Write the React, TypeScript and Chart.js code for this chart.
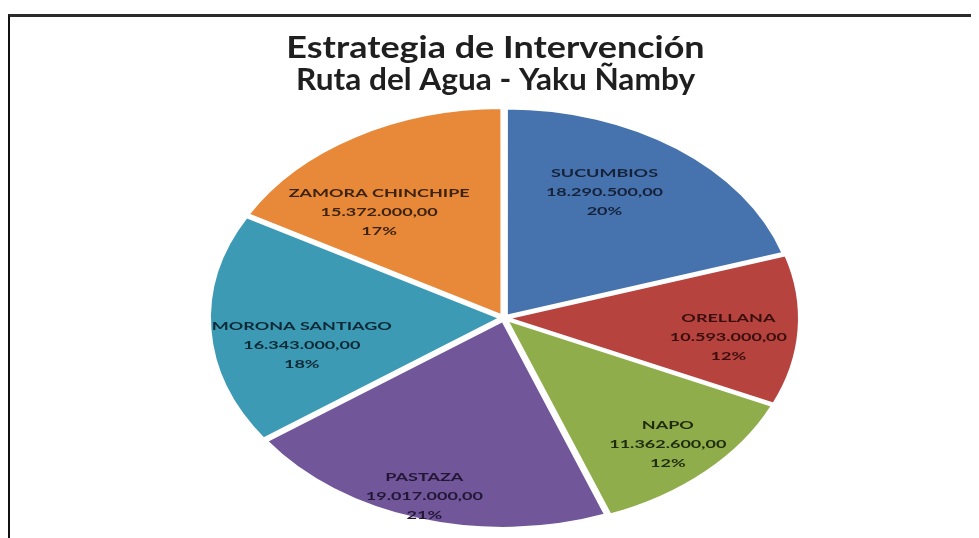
import React, { useEffect, useRef } from "react";
import { Chart, registerables } from "chart.js";

Chart.register(...registerables);

// ---- data ----
const TITLE_LINES = ["Estrategia de Intervención", "Ruta del Agua - Yaku Ñamby"];
const CATEGORIES = [
  "SUCUMBIOS",
  "ORELLANA",
  "NAPO",
  "PASTAZA",
  "MORONA SANTIAGO",
  "ZAMORA CHINCHIPE",
];
const VALUES = [18290500, 10593000, 11362600, 19017000, 16343000, 15372000];

// ---- styles ----
const SLICE_COLORS = ["#4672AE", "#B7433F", "#8FAE4B", "#71569A", "#3C9AB4", "#E8893A"];
const LABEL_COLORS = ["#16223a", "#3a0f0d", "#1f2b0c", "#231736", "#0d2a36", "#3d230c"];
// label placement: fraction of the radius and angular shift (degrees) from the slice's mid angle
const LABEL_RADIUS = [0.7, 0.78, 0.83, 0.905, 0.71, 0.67];
const LABEL_SHIFT = [-6.5, 3.6, 0.3, 0.8, -7.5, -9.6];
const STRETCH_X = 1.4; // the picture's pie is an ellipse
const LABEL_STRETCH = 1.5;
const TITLE_STRETCH = [1.16, 1.02];
const LABEL_LINE_GAP = 19;

function fmt(v: number): string {
  const [i, d] = v.toFixed(2).split(".");
  return i.replace(/\B(?=(\d{3})+(?!\d))/g, ".") + "," + d;
}

const ellipsePlugin = {
  id: "ellipsePie",
  beforeDatasetsDraw(chart: any) {
    const arc = chart.getDatasetMeta(0).data[0];
    const ctx = chart.ctx;
    ctx.save();
    ctx.translate(arc.x, arc.y);
    ctx.scale(STRETCH_X, 1);
    ctx.translate(-arc.x, -arc.y);
  },
  afterDatasetsDraw(chart: any) {
    chart.ctx.restore();
  },
  afterDraw(chart: any) {
    const ctx = chart.ctx;
    const meta = chart.getDatasetMeta(0);
    const total = VALUES.reduce((a, b) => a + b, 0);
    meta.data.forEach((arc: any, i: number) => {
      const { x, y, startAngle, endAngle, outerRadius } = arc.getProps(
        ["x", "y", "startAngle", "endAngle", "outerRadius"],
        true
      );
      const a = (startAngle + endAngle) / 2 + (LABEL_SHIFT[i] * Math.PI) / 180;
      const r = outerRadius * LABEL_RADIUS[i];
      const lx = x + Math.cos(a) * r * STRETCH_X;
      const ly = y + Math.sin(a) * r;
      const lines = [CATEGORIES[i], fmt(VALUES[i]), Math.round((VALUES[i] / total) * 100) + "%"];
      ctx.save();
      ctx.translate(lx, ly);
      ctx.scale(LABEL_STRETCH, 1);
      ctx.font = "bold 12px Lato, 'Open Sans', sans-serif";
      ctx.textAlign = "center";
      ctx.textBaseline = "middle";
      ctx.fillStyle = LABEL_COLORS[i];
      lines.forEach((t, j) => ctx.fillText(t, 0, (j - 1) * LABEL_LINE_GAP));
      ctx.restore();
    });

    // title
    const baselines = [50, 82];
    ctx.save();
    ctx.fillStyle = "#1f1f1f";
    ctx.font = "bold 31px Lato, 'Open Sans', sans-serif";
    ctx.textAlign = "center";
    ctx.textBaseline = "alphabetic";
    TITLE_LINES.forEach((t, j) => {
      ctx.save();
      ctx.translate(chart.width / 2 + 2, baselines[j]);
      ctx.scale(TITLE_STRETCH[j], 1);
      ctx.fillText(t, 0, 0);
      ctx.restore();
    });
    ctx.restore();
  },
};

export default function App() {
  const ref = useRef<HTMLCanvasElement>(null);

  useEffect(() => {
    document.documentElement.style.overflow = "hidden";
    const chart = new Chart(ref.current as HTMLCanvasElement, {
      type: "pie",
      data: {
        labels: CATEGORIES,
        datasets: [
          {
            data: VALUES,
            backgroundColor: SLICE_COLORS,
            borderColor: "#ffffff",
            borderWidth: 2,
            offset: 12,
            radius: 207,
            clip: false,
          } as any,
        ],
      },
      options: {
        animation: false,
        responsive: true,
        maintainAspectRatio: false,
        events: [],
        layout: { padding: { top: 100, bottom: 10, left: 21, right: 0 } },
        plugins: {
          legend: { display: false },
          title: { display: false },
          tooltip: { enabled: false },
        },
      },
      plugins: [ellipsePlugin],
    });
    return () => chart.destroy();
  }, []);

  return (
    <div style={{ position: "relative", width: 971, height: 530, overflow: "hidden", background: "#fff" }}>
      <div
        style={{
          position: "absolute",
          left: 0,
          top: 6,
          width: 1200,
          height: 800,
          borderTop: "3px solid #2b2b2b",
          borderLeft: "2px solid #111",
        }}
      />
      <div style={{ position: "absolute", left: 0, top: 0, width: 971, height: 530 }}>
        <canvas ref={ref} />
      </div>
    </div>
  );
}
